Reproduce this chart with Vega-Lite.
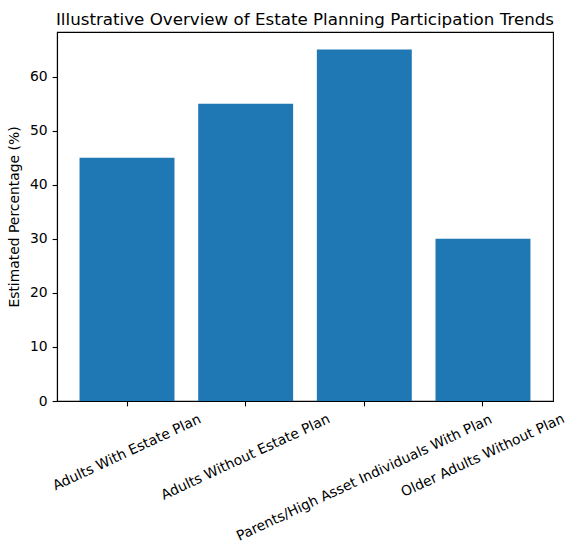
{
  "$schema": "https://vega.github.io/schema/vega-lite/v6.json",
  "autosize": "none",
  "width": 496,
  "height": 369,
  "padding": {"left": 57, "top": 32, "right": 23, "bottom": 151},
  "background": "white",
  "title": {
    "text": "Illustrative Overview of Estate Planning Participation Trends",
    "font": "DejaVu Sans",
    "fontSize": 16.7,
    "fontWeight": "normal",
    "color": "black",
    "anchor": "middle",
    "frame": "group",
    "baseline": "bottom",
    "offset": 4,
    "dy": 18
  },
  "config": {
    "view": {"stroke": "black", "strokeWidth": 1.1},
    "axis": {
      "labelFont": "DejaVu Sans",
      "labelFontSize": 13.9,
      "labelColor": "black",
      "titleFont": "DejaVu Sans",
      "titleFontSize": 13.9,
      "titleFontWeight": "normal",
      "titleColor": "black",
      "domainColor": "black",
      "domainWidth": 1.1,
      "tickColor": "black",
      "tickWidth": 1.1,
      "tickSize": 4.9,
      "labelPadding": 4.9,
      "labelLimit": 0,
      "grid": false
    }
  },
  "data": {
    "values": [
      {"category": "Adults With Estate Plan", "percent": 45},
      {"category": "Adults Without Estate Plan", "percent": 55},
      {"category": "Parents/High Asset Individuals With Plan", "percent": 65},
      {"category": "Older Adults Without Plan", "percent": 30}
    ]
  },
  "mark": {"type": "bar", "color": "#1f77b4"},
  "encoding": {
    "x": {
      "field": "category",
      "type": "nominal",
      "sort": null,
      "scale": {"paddingInner": 0.2, "paddingOuter": 0.19},
      "axis": {
        "title": null,
        "labelAngle": -25,
        "labelAlign": "center",
        "labelBaseline": "middle",
        "labelOverlap": false,
        "labelBound": false,
        "labelPadding": {"expr": "12.15 + 1.49 * length(datum.label)"}
      }
    },
    "y": {
      "field": "percent",
      "type": "quantitative",
      "scale": {"domain": [0, 68.25], "nice": false},
      "axis": {
        "title": "Estimated Percentage (%)",
        "values": [0, 10, 20, 30, 40, 50, 60],
        "titlePadding": 8
      }
    }
  }
}
